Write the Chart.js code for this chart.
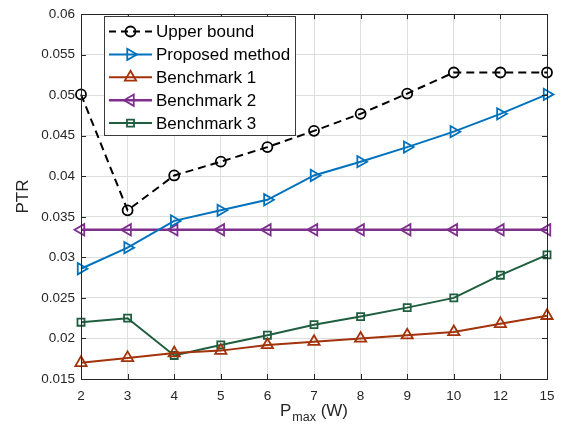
<!DOCTYPE html>
<html>
<head>
<meta charset="utf-8">
<script src="https://cdn.jsdelivr.net/npm/chart.js"></script>
<style>
  html, body { margin: 0; padding: 0; background: #fff; }
  #wrap { width: 574px; height: 425px; position: relative; }
</style>
</head>
<body>
<div id="wrap"><canvas id="c" width="574" height="425"></canvas></div>
<script>
// ---- data ----
const categories = ['2', '3', '4', '5', '6', '7', '8', '9', '10', '12', '15'];
const upperBound   = [0.0501, 0.0358, 0.0401, 0.0418, 0.0436, 0.0456, 0.0477, 0.0502, 0.0528, 0.0528, 0.0528];
const proposed     = [0.0286, 0.0312, 0.0345, 0.0358, 0.0371, 0.0401, 0.0418, 0.0436, 0.0455, 0.0477, 0.0501];
const benchmark1   = [0.0170, 0.0176, 0.0182, 0.0185, 0.0192, 0.0196, 0.0200, 0.0204, 0.0208, 0.0218, 0.0228];
const benchmark2   = [0.0334, 0.0334, 0.0334, 0.0334, 0.0334, 0.0334, 0.0334, 0.0334, 0.0334, 0.0334, 0.0334];
const benchmark3   = [0.0220, 0.0225, 0.0179, 0.0192, 0.0204, 0.0217, 0.0227, 0.0238, 0.0250, 0.0278, 0.0303];
const seriesNames  = ['Upper bound', 'Proposed method', 'Benchmark 1', 'Benchmark 2', 'Benchmark 3'];
const yMin = 0.015, yMax = 0.06, yStep = 0.005;
const yTitle = 'PTR';
const xTitleMain = 'P', xTitleSub = 'max', xTitleUnit = ' (W)';

const FONT = '"Liberation Sans", Arial, Helvetica, sans-serif';
const AXIS_COLOR = '#262626';

const styles = [
  { color: '#000000', style: 'circle',   rot: 0,   r: 5,   width: 2,   dash: [8, 5] },
  { color: '#0072BD', style: 'triangle', rot: 90,  r: 6.5, width: 2,   dash: [] },
  { color: '#A2330A', style: 'triangle', rot: 0,   r: 6.5, width: 2,   dash: [] },
  { color: '#7E2F8E', style: 'triangle', rot: -90, r: 6.5, width: 2.5, dash: [] },
  { color: '#1F5E3E', style: 'rect',     rot: 0,   r: 5,   width: 2,   dash: [] }
];
const seriesData = [upperBound, proposed, benchmark1, benchmark2, benchmark3];

const datasets = seriesData.map((d, i) => ({
  label: seriesNames[i],
  data: d,
  borderColor: styles[i].color,
  backgroundColor: 'rgba(0,0,0,0)',
  borderWidth: styles[i].width,
  borderDash: styles[i].dash,
  pointStyle: styles[i].style,
  pointRotation: styles[i].rot,
  pointRadius: styles[i].r,
  pointBorderWidth: 1.8,
  pointBorderColor: styles[i].color,
  pointBackgroundColor: 'rgba(0,0,0,0)',
  tension: 0,
  fill: false
}));

function drawMarker(ctx, st, x, y) {
  ctx.save();
  ctx.strokeStyle = st.color;
  ctx.lineWidth = 1.8;
  ctx.setLineDash([]);
  ctx.beginPath();
  if (st.style === 'circle') {
    ctx.arc(x, y, st.r, 0, Math.PI * 2);
  } else if (st.style === 'rect') {
    const s = st.r * Math.SQRT1_2;
    ctx.rect(x - s, y - s, 2 * s, 2 * s);
  } else {
    let rad = st.rot * Math.PI / 180;
    for (let k = 0; k < 3; k++) {
      const px = x + Math.sin(rad) * st.r, py = y - Math.cos(rad) * st.r;
      if (k === 0) ctx.moveTo(px, py); else ctx.lineTo(px, py);
      rad += 2 * Math.PI / 3;
    }
    ctx.closePath();
  }
  ctx.stroke();
  ctx.restore();
}

const framePlugin = {
  id: 'frame',
  afterDraw(chart) {
    const ctx = chart.ctx;
    const a = chart.chartArea;
    const xs = chart.scales.x, ys = chart.scales.y;
    ctx.save();
    // box
    ctx.strokeStyle = AXIS_COLOR;
    ctx.lineWidth = 1;
    ctx.setLineDash([]);
    ctx.strokeRect(Math.round(a.left) + 0.5, Math.round(a.top) + 0.5,
                   Math.round(a.right - a.left), Math.round(a.bottom - a.top));
    // inner ticks
    const tl = 5;
    ctx.beginPath();
    xs.ticks.forEach((t, i) => {
      const x = Math.round(xs.getPixelForTick(i)) + 0.5;
      ctx.moveTo(x, a.bottom); ctx.lineTo(x, a.bottom - tl);
      ctx.moveTo(x, a.top); ctx.lineTo(x, a.top + tl);
    });
    ys.ticks.forEach((t, i) => {
      const y = Math.round(ys.getPixelForValue(t.value)) + 0.5;
      ctx.moveTo(a.left, y); ctx.lineTo(a.left + tl, y);
      ctx.moveTo(a.right, y); ctx.lineTo(a.right - tl, y);
    });
    ctx.stroke();

    // y title
    ctx.fillStyle = AXIS_COLOR;
    ctx.font = '17px ' + FONT;
    ctx.textAlign = 'center';
    ctx.textBaseline = 'middle';
    ctx.save();
    ctx.translate(23, (a.top + a.bottom) / 2);
    ctx.rotate(-Math.PI / 2);
    ctx.fillText(yTitle, 0, 0);
    ctx.restore();

    // x title with subscript
    ctx.textAlign = 'left';
    ctx.textBaseline = 'alphabetic';
    const mainFont = '17px ' + FONT, subFont = '12.5px ' + FONT;
    ctx.font = mainFont; const wP = ctx.measureText(xTitleMain).width;
    const wU = ctx.measureText(xTitleUnit).width;
    ctx.font = subFont; const wS = ctx.measureText(xTitleSub).width;
    const total = wP + 1 + wS + wU;
    let x0 = (a.left + a.right) / 2 - total / 2;
    const base = 416;
    ctx.font = mainFont; ctx.fillText(xTitleMain, x0, base);
    ctx.font = subFont; ctx.fillText(xTitleSub, x0 + wP + 1, base + 5);
    ctx.font = mainFont; ctx.fillText(xTitleUnit, x0 + wP + 1 + wS, base);

    // legend
    const lx = 104.5, ly = 16.5, lw = 191, lh = 119;
    ctx.fillStyle = '#ffffff';
    ctx.fillRect(lx, ly, lw, lh);
    ctx.strokeStyle = '#3a3a3a';
    ctx.lineWidth = 1;
    ctx.strokeRect(lx, ly, lw, lh);
    ctx.font = '17px ' + FONT;
    ctx.textBaseline = 'middle';
    ctx.textAlign = 'left';
    seriesNames.forEach((name, i) => {
      const st = styles[i];
      const y = 31.5 + i * 22.9;
      ctx.save();
      ctx.strokeStyle = st.color;
      ctx.lineWidth = st.width;
      ctx.setLineDash(st.dash.length ? [7, 5] : []);
      ctx.beginPath();
      ctx.moveTo(109, y); ctx.lineTo(152, y);
      ctx.stroke();
      ctx.restore();
      drawMarker(ctx, st, 130.5, y);
      ctx.fillStyle = '#000';
      ctx.fillText(name, 156, y + 1);
    });
    ctx.restore();
  }
};

new Chart(document.getElementById('c'), {
  type: 'line',
  data: { labels: categories, datasets },
  options: {
    responsive: false,
    animation: false,
    devicePixelRatio: 1,
    layout: { padding: { top: 12, right: 27, left: 0, bottom: 0 } },
    plugins: { legend: { display: false }, tooltip: { enabled: false }, title: { display: false } },
    scales: {
      x: {
        type: 'category',
        offset: false,
        grid: { color: '#dedede', lineWidth: 1, drawTicks: false },
        border: { display: false },
        ticks: { color: AXIS_COLOR, font: { family: FONT, size: 13.5 }, padding: 9, maxRotation: 0, autoSkip: false },
        afterFit(s) { s.height = 46; }
      },
      y: {
        min: yMin, max: yMax,
        grid: { color: '#dedede', lineWidth: 1, drawTicks: false },
        border: { display: false },
        ticks: {
          stepSize: yStep,
          color: AXIS_COLOR,
          font: { family: FONT, size: 13.5 },
          padding: 6,
          callback: v => String(Number(v.toFixed(3)))
        },
        afterFit(s) { s.width = 81; }
      }
    }
  },
  plugins: [framePlugin]
});
</script>
</body>
</html>
